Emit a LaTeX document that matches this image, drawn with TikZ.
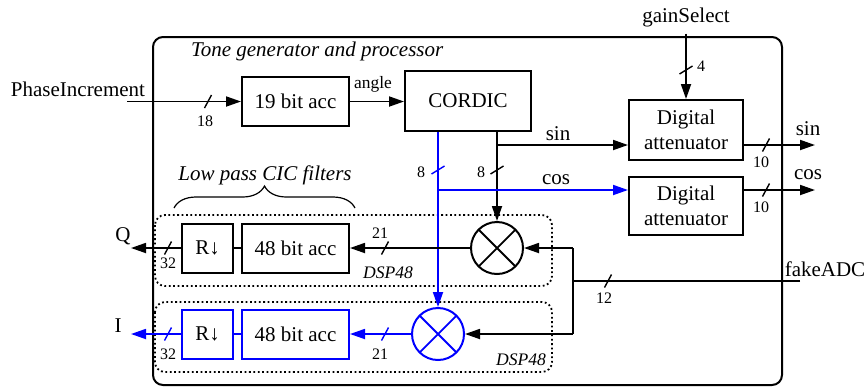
\documentclass[tikz,border=0pt]{standalone}
\usepackage{fontspec}
\setmainfont{Liberation Serif}
\usetikzlibrary{arrows.meta,decorations.pathreplacing}

\begin{document}
\begin{tikzpicture}[x=0.5pt, y=-0.5pt,
  every node/.style={font=\fontsize{10.5}{12.5}\selectfont},
  blk/.style={draw, line width=1pt, inner sep=0pt, minimum height=24.5pt, align=center},
  mix/.style={draw, circle, line width=1pt, minimum size=26pt, inner sep=0pt,
    path picture={\draw[line width=0.9pt]
      (path picture bounding box.north west) -- (path picture bounding box.south east)
      (path picture bounding box.north east) -- (path picture bounding box.south west);}},
  sig/.style={line width=0.9pt},
  arr/.style={sig, -{Triangle[length=7.5pt, width=5pt]}},
  num/.style={font=\fontsize{8}{9}\selectfont, inner sep=0pt},
  note/.style={font=\fontsize{10.5}{12.5}\itshape},
  dsp/.style={draw, line width=0.9pt, dash pattern=on 0.9pt off 1.3pt, rounded corners=5pt},
  hbus/.pic={\draw[line width=0.7pt] (-3.5,6.5) -- (3.5,-6.5);},
  vbus/.pic={\draw[line width=0.7pt] (-6.5,4) -- (6.5,-4);}
]
\useasboundingbox (0,0) rectangle (865,387);

% frames
\draw[line width=1pt, rounded corners=5pt] (153,37) rectangle (782,385);
\node[note, anchor=west] (title) at (184,51) {Tone generator and processor};
\draw[dsp] (155,215) rectangle (552,286);
\draw[dsp] (155,302) rectangle (552,372);
\node[note, font=\fontsize{8.8}{10}\itshape] (dspq) at (388,273) {DSP48};
\node[note, font=\fontsize{8.8}{10}\itshape] (dspi) at (521,360) {DSP48};

% blocks
\node[blk, minimum width=53.5pt] (acc19) at (295.5,101.5) {19 bit acc};
\node[blk, minimum width=63pt, minimum height=30pt] (cordic) at (468,101) {CORDIC};
\node[blk, minimum width=57pt, minimum height=30pt] (attsin) at (686,130) {Digital\\attenuator};
\node[blk, minimum width=57pt, minimum height=29pt] (attcos) at (686,206) {Digital\\attenuator};
\node[mix] (mulq) at (497,248) {};
\node[mix, blue] (muli) at (438,334) {};
\node[blk, minimum width=25.5pt] (rq) at (207.5,248) {R↓};
\node[blk, minimum width=53.5pt] (accq) at (295.5,248) {48 bit acc};
\node[blk, blue, text=black, minimum width=25.5pt] (ri) at (207.5,334) {R↓};
\node[blk, blue, text=black, minimum width=53.5pt] (acci) at (295.5,334) {48 bit acc};

% phase accumulator
\node (pinc) at (78,89) {PhaseIncrement};
\coordinate (pincin) at (127,101.5);
\draw[arr] (pincin) -- (acc19.west);
\pic at (208,101.5) {hbus};
\node[num] (n18) at (205,121) {18};
\draw[arr] (acc19.east) -- (acc19.east -| cordic.west);
\node[num, font=\fontsize{8.7}{10}\selectfont] (angle) at (373,84) {angle};

% gain select
\node (gsel) at (686,17) {gainSelect};
\draw[arr] (gsel.south) -- (attsin.north);
\pic at (686,70) {vbus};
\node[num] (n4) at (701,66) {4};

% sin / cos
\coordinate (sinsplit) at (497,145);
\coordinate (cossplit) at (438,190);
\draw[arr] (cordic.south -| mulq) -- (mulq.north);
\draw[arr] (sinsplit) -- (sinsplit -| attsin.west);
\node (sinlab) at (558,134) {sin};
\pic at (497,170) {vbus};
\node[num] (n8q) at (481,172) {8};
\draw[arr, blue] (cordic.south -| muli) -- (muli.north);
\draw[arr, blue] (cossplit) -- (cossplit -| attcos.west);
\node (coslab) at (556,180) {cos};
\pic[blue] at (438,170) {vbus};
\node[num] (n8i) at (421,172) {8};

\coordinate (sinout) at (815,145);
\coordinate (cosout) at (815,190);
\draw[arr] (sinsplit -| attsin.east) -- (sinout);
\node (sinolab) at (808,129) {sin};
\pic at (766,145) {hbus};
\node[num] (n10s) at (761,162) {10};
\draw[arr] (cossplit -| attcos.east) -- (cosout);
\node (cosolab) at (808,175) {cos};
\pic at (766,190) {hbus};
\node[num] (n10c) at (761,207) {10};

% Q path
\draw[arr] (mulq.west) -- (accq.east);
\pic at (385,248) {hbus};
\node[num] (n21q) at (380,233) {21};
\draw[sig] (accq.west) -- (rq.east);
\coordinate (qout) at (131,248);
\draw[arr] (rq.west) -- (qout);
\node (qlab) at (123,236) {Q};
\pic at (168,248) {hbus};
\node[num] (n32q) at (168,263) {32};

% I path
\draw[arr, blue] (muli.west) -- (acci.east);
\pic[blue] at (385,334) {hbus};
\node[num] (n21i) at (380,354) {21};
\draw[sig, blue] (acci.west) -- (ri.east);
\coordinate (iout) at (131,334);
\draw[arr, blue] (ri.west) -- (iout);
\node (ilab) at (118,326) {I};
\pic[blue] at (168,334) {hbus};
\node[num] (n32i) at (168,354) {32};

% fake ADC
\coordinate (fadc) at (800,281);
\coordinate (fjoin) at (573,281);
\draw[sig] (fadc) -- (fjoin);
\draw[sig] (fjoin |- mulq) -- (fjoin |- muli);
\draw[arr] (fjoin |- mulq) -- (mulq.east);
\draw[arr] (fjoin |- muli) -- (muli.east);
\node (fadclab) at (825,269) {fakeADC};
\pic at (608,281) {hbus};
\node[num] (n12) at (604,298) {12};

% CIC filters
\draw[decorate, decoration={brace, amplitude=11pt}, line width=0.6pt] (174,208) -- (355,208);
\node[note] (cic) at (265,175) {Low pass CIC filters};
\end{tikzpicture}
\end{document}
